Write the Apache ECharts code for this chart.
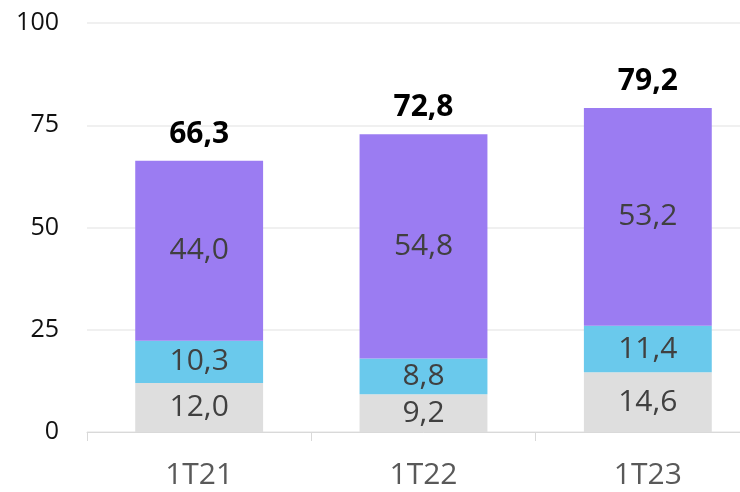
<!DOCTYPE html>
<html>
<head>
<meta charset="utf-8">
<script src="https://cdn.jsdelivr.net/npm/echarts@6/dist/echarts.min.js"></script>
<style>
  html, body { margin: 0; padding: 0; background: #fff; overflow: hidden; }
  /* chart is a little wider than the window: the last category runs off the edge */
  #chart { width: 760px; height: 492px; }
</style>
</head>
<body>
<div id="chart"></div>
<script>
const categories = ['1T21', '1T22', '1T23'];
const bottomValues = [12.0, 9.2, 14.6];
const middleValues = [10.3, 8.8, 11.4];
const topValues = [44.0, 54.8, 53.2];
const totals = [66.3, 72.8, 79.2];
const yTicks = [0, 25, 50, 75, 100];

const fmt = v => Number(v).toFixed(1).replace('.', ',');
const font = '"Open Sans", "Noto Sans", sans-serif';

const innerLabel = {
  show: true,
  position: 'inside',
  color: '#404040',
  fontSize: 30,
  fontFamily: font,
  formatter: p => fmt(p.value)
};

const chart = echarts.init(document.getElementById('chart'));
chart.setOption({
  animation: false,
  grid: { left: 87, right: 0, top: 23, bottom: 60 },
  xAxis: {
    type: 'category',
    data: categories,
    axisLine: { lineStyle: { color: '#d9d9d9', width: 1 } },
    axisTick: { show: true, length: 9, lineStyle: { color: '#d9d9d9' } },
    axisLabel: { color: '#595959', fontSize: 30, fontFamily: font, margin: 28 }
  },
  yAxis: {
    type: 'value',
    min: yTicks[0],
    max: yTicks[yTicks.length - 1],
    interval: 25,
    axisLine: { show: false },
    axisTick: { show: false },
    splitLine: { lineStyle: { color: '#f0f0f0', width: 2 } },
    axisLabel: { color: '#111', fontSize: 25, fontFamily: font, margin: 28 }
  },
  series: [
    {
      type: 'bar', stack: 'a', data: bottomValues, barWidth: '57%',
      itemStyle: { color: '#dedede' }, label: innerLabel
    },
    {
      type: 'bar', stack: 'a', data: middleValues,
      itemStyle: { color: '#6ac9ec' }, label: innerLabel
    },
    {
      type: 'bar', stack: 'a', data: topValues,
      itemStyle: { color: '#9b7cf2' }, label: innerLabel
    },
    {
      // totals above each bar
      type: 'line', data: totals, symbol: 'circle', symbolSize: 1, showSymbol: true,
      itemStyle: { color: 'transparent' }, lineStyle: { color: 'transparent' }, silent: true,
      label: {
        show: true, position: 'top', distance: 11,
        color: '#000', fontSize: 30, fontWeight: 'bold', fontFamily: font,
        formatter: p => fmt(p.value)
      }
    }
  ]
});
</script>
</body>
</html>
